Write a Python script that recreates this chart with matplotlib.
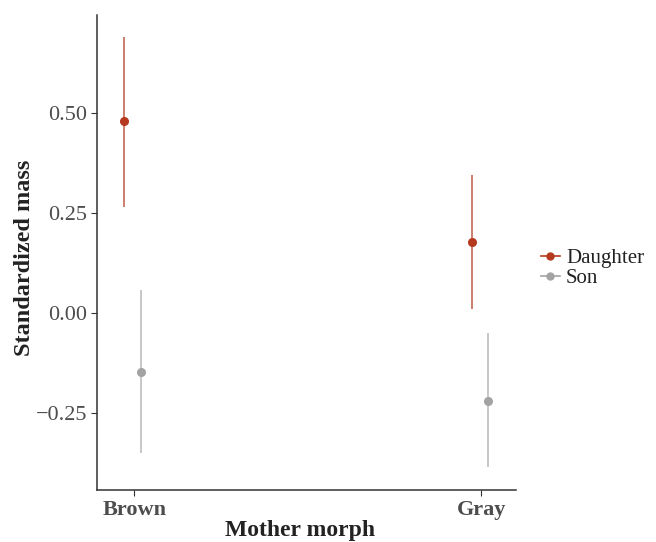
import matplotlib
matplotlib.use("Agg")
import matplotlib.pyplot as plt
from matplotlib.lines import Line2D

morphs = ["Brown", "Gray"]
sexes = ["Daughter", "Son"]
means = {"Daughter": [0.48, 0.178], "Son": [-0.148, -0.22]}
lower = {"Daughter": [0.265, 0.01], "Son": [-0.35, -0.385]}
upper = {"Daughter": [0.69, 0.345], "Son": [0.058, -0.05]}
colors = {"Daughter": "#b5391e", "Son": "#a3a3a3"}
bar_colors = {"Daughter": "#c46a55", "Son": "#bdbdbd"}
offsets = {"Daughter": -0.028, "Son": 0.02}

plt.rcParams['font.family'] = ['Liberation Serif', 'DejaVu Serif']

fig = plt.figure(figsize=(6.56, 5.42), dpi=100)
ax = fig.add_axes([0.1479, 0.0959, 0.6387, 0.8764])

xs = [1, 2]
for s in sexes:
    xp = [x + offsets[s] for x in xs]
    ax.vlines(xp, lower[s], upper[s], color=bar_colors[s], lw=1.2, zorder=2)
    ax.plot(xp, means[s], 'o', color=colors[s], ms=5.5, zorder=3, ls='none')

ax.set_xlim(0.893, 2.10)
ax.set_ylim(-0.4425, 0.745)
ax.set_xticks(xs)
ax.set_xticklabels(morphs, fontweight='bold', fontsize=16, color='#4d4d4d')
ax.set_yticks([-0.25, 0.0, 0.25, 0.5])
ax.set_yticklabels(["\u22120.25", "0.00", "0.25", "0.50"], fontsize=16, color='#4d4d4d')
ax.tick_params(length=4, width=0.8, color='#333333', pad=3)
for sp in ['top', 'right']:
    ax.spines[sp].set_visible(False)
for sp in ['left', 'bottom']:
    ax.spines[sp].set_color('#333333')
    ax.spines[sp].set_linewidth(1.1)

ax.set_xlabel("Mother morph", fontweight='bold', fontsize=17, color='#222222', va='center')
ax.set_ylabel("Standardized mass", fontweight='bold', fontsize=17.5, color='#222222', va='center')
ax.xaxis.set_label_coords(0.4845, -0.086)
ax.yaxis.set_label_coords(-0.172, 0.488)

handles = [Line2D([0], [0], color=colors[s], marker='o', ms=5, lw=1.2) for s in sexes]
leg = fig.legend(handles, sexes, loc='center left', bbox_to_anchor=(0.812, 0.505),
                 frameon=False, fontsize=15, handlelength=0.9, handletextpad=0.3,
                 labelspacing=0.0, borderaxespad=0)
for t in leg.get_texts():
    t.set_color('#222222')

fig.savefig("out.png", dpi=100)
